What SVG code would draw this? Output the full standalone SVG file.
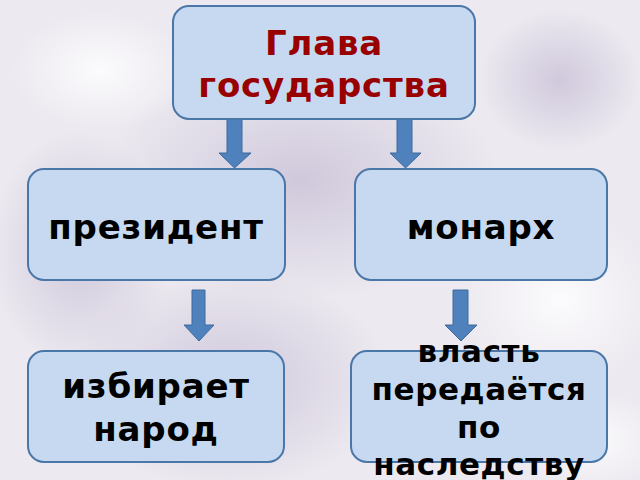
<svg xmlns="http://www.w3.org/2000/svg" width="640" height="480" viewBox="0 0 640 480">
<defs>
<style>
.box{fill:#C6D9F1;stroke:#4A76A8;stroke-width:2}
.arr{fill:#4F81BD;stroke:#3C6A9C;stroke-width:1}
.t{font-family:"DejaVu Sans",sans-serif;font-weight:bold;font-size:34px;fill:#000;text-anchor:middle;letter-spacing:0.8px}
.s{font-size:31px;letter-spacing:0.6px}
.h{fill:#990000}
</style>
<radialGradient id="bl" cx="50%" cy="50%" r="50%">
<stop offset="0" stop-color="#B8AECB" stop-opacity="0.55"/>
<stop offset="1" stop-color="#B8AECB" stop-opacity="0"/>
</radialGradient>
<radialGradient id="wh" cx="50%" cy="50%" r="50%">
<stop offset="0" stop-color="#FFFFFF" stop-opacity="0.8"/>
<stop offset="1" stop-color="#FFFFFF" stop-opacity="0"/>
</radialGradient>
</defs>
<rect x="0" y="0" width="640" height="480" fill="#ECE9F0"/>
<ellipse cx="300" cy="180" rx="200" ry="120" fill="url(#bl)"/>
<ellipse cx="230" cy="380" rx="160" ry="110" fill="url(#bl)"/>
<ellipse cx="80" cy="250" rx="90" ry="120" fill="url(#bl)"/>
<ellipse cx="560" cy="80" rx="80" ry="70" fill="url(#bl)"/>
<ellipse cx="100" cy="70" rx="90" ry="60" fill="url(#wh)"/>
<ellipse cx="560" cy="300" rx="100" ry="90" fill="url(#wh)"/>
<ellipse cx="590" cy="440" rx="80" ry="50" fill="url(#wh)"/>
<g id="connectors">
<polygon class="arr" points="227,119 242,119 242,153 251,153 234.5,168 219,153 227,153"/>
<polygon class="arr" points="397,119 412,119 412,153 421,153 405.5,168 390,153 397,153"/>
<polygon class="arr" points="192,290 205,290 205,325 214,325 199,341 184,325 192,325"/>
<polygon class="arr" points="453,290 468,290 468,325 477,325 461,341 445,325 453,325"/>
</g>
<g id="head">
<rect class="box" x="173" y="6" width="302" height="113" rx="16"/>
<text class="t h" x="324" y="55">Глава</text>
<text class="t h" x="324" y="97">государства</text>
</g>
<g id="president">
<rect class="box" x="28" y="169" width="257" height="111" rx="16"/>
<text class="t" x="156" y="239">президент</text>
</g>
<g id="monarch">
<rect class="box" x="355" y="169" width="252" height="111" rx="16"/>
<text class="t" x="481" y="239">монарх</text>
</g>
<g id="elected">
<rect class="box" x="28" y="351" width="256" height="111" rx="16"/>
<text class="t" x="156" y="398">избирает</text>
<text class="t" x="156" y="441">народ</text>
</g>
<g id="inherited">
<rect class="box" x="351" y="351" width="256" height="111" rx="16"/>
<text class="t s" x="479" y="362">власть</text>
<text class="t s" x="479" y="400">передаётся</text>
<text class="t s" x="479" y="438">по</text>
<text class="t s" x="479" y="475">наследству</text>
</g>
</svg>
